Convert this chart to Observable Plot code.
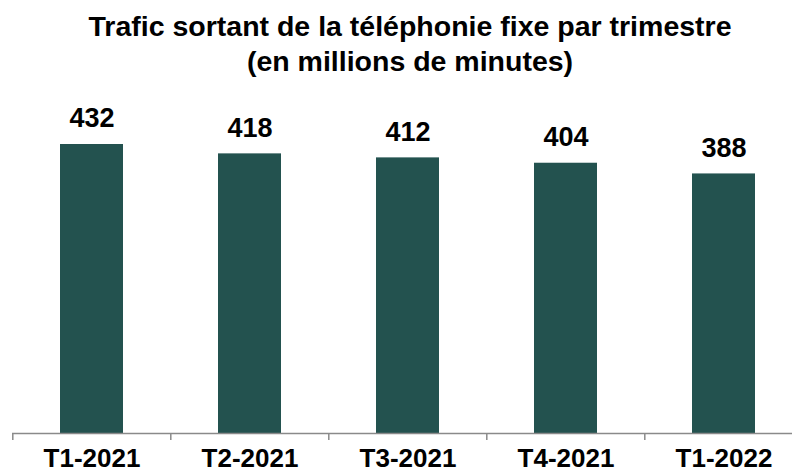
<!DOCTYPE html>
<html>
<head>
<meta charset="utf-8">
<script src="https://cdn.jsdelivr.net/npm/d3@7"></script>
<script src="https://cdn.jsdelivr.net/npm/@observablehq/plot@0.6"></script>
<style>
  html, body { margin: 0; padding: 0; background: #fff; }
  #wrap { width: 792px; height: 474px; overflow: hidden; font-family: "Liberation Sans", Arial, sans-serif; }
  #title { box-sizing: border-box; width: 792px; height: 80px; padding-top: 9px; padding-left: 28px; text-align: center; font-weight: bold; font-size: 28.5px; line-height: 35px; color: #000; white-space: nowrap; }
  #chart { width: 792px; overflow: hidden; }
</style>
</head>
<body>
<div id="wrap">
  <div id="title">Trafic sortant de la téléphonie fixe par trimestre<br>(en millions de minutes)</div>
  <div id="chart"></div>
</div>
<script>
const categories = ["T1-2021", "T2-2021", "T3-2021", "T4-2021", "T1-2022"];
const values = [432, 418, 412, 404, 388];

const data = categories.map((c, i) => ({cat: c, val: values[i]}));
const plotWidth = 804;
const mLeft = 12;
const halfStep = (plotWidth - mLeft) / categories.length / 2;

const chart = Plot.plot({
  width: plotWidth,
  height: 394,
  marginTop: 64,
  marginBottom: 41,
  marginLeft: mLeft,
  marginRight: 0,
  style: {fontFamily: "Liberation Sans, Arial, sans-serif", background: "#fff", maxWidth: "none"},
  x: {domain: categories, paddingInner: 0.6, paddingOuter: 0.3, align: 0.5, label: null},
  y: {domain: [0, 432], axis: null},
  marks: [
    Plot.barY(data, {x: "cat", y: "val", fill: "#23524F"}),
    Plot.ruleY([0], {stroke: "#8a8a8a", strokeWidth: 1.5}),
    Plot.axisX({tickSize: 7, text: null, label: null, stroke: "#8a8a8a", strokeWidth: 1.5, dx: -halfStep}),
    Plot.text(categories, {x: d => d, frameAnchor: "bottom", dy: 33, fontSize: 26, fontWeight: "bold", fill: "#000"}),
    Plot.text(data, {x: "cat", y: "val", text: d => String(d.val), dy: -26, fontSize: 27, fontWeight: "bold", fill: "#000"})
  ]
});
chart.style.display = "block";
chart.style.maxWidth = "none";
document.getElementById("chart").appendChild(chart);
</script>
</body>
</html>
